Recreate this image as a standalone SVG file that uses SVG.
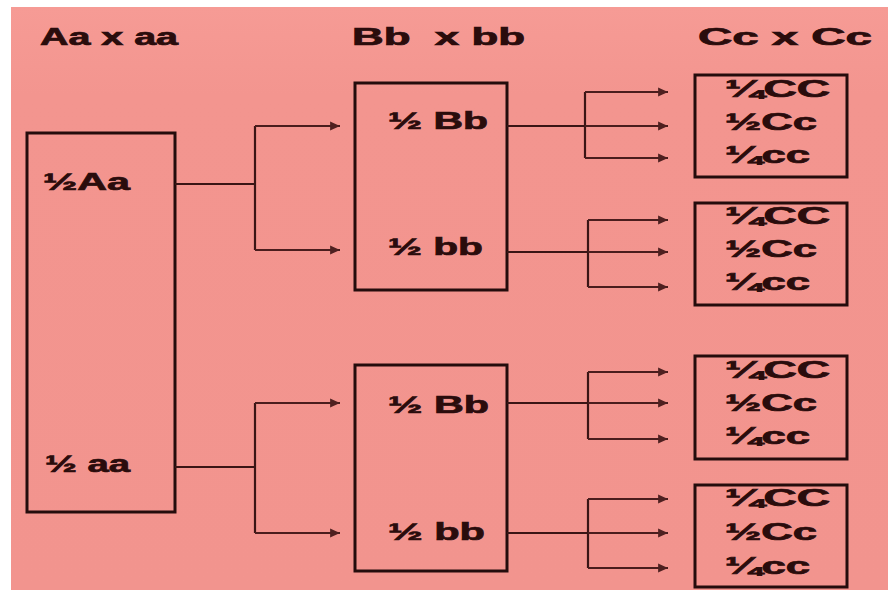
<svg xmlns="http://www.w3.org/2000/svg" width="888" height="590" viewBox="0 0 888 590">
<defs>
<marker id="ah" viewBox="0 0 10 10" refX="10" refY="5" markerWidth="5.5" markerHeight="4.5" orient="auto" markerUnits="strokeWidth">
<path d="M0,0.5 L10,5 L0,9.5 Z" fill="#4e2020"/>
</marker>
<linearGradient id="bgg" x1="0" y1="0" x2="0" y2="1">
<stop offset="0" stop-color="#f69b95"/>
<stop offset="0.15" stop-color="#f3958f"/>
<stop offset="1" stop-color="#f2948e"/>
</linearGradient>
<style>
.bg{fill:url(#bgg)}
.box{fill:none;stroke:#240c0c;stroke-width:3}
.ln{fill:none;stroke:#3a1515;stroke-width:2.2}
.ar{fill:none;stroke:#4a1d1d;stroke-width:2.2;marker-end:url(#ah)}
text{font-family:"Liberation Sans",Arial,sans-serif;font-weight:bold;fill:#2a0c0c;stroke:#2a0c0c;stroke-width:0.7}
.h{font-size:23px}
.t{font-size:24px}
.s{font-size:23px}
</style>
</defs>
<rect width="888" height="590" fill="#ffffff"/>
<rect x="11" y="7" width="877" height="583" class="bg"/>

<g id="headers">
<text class="h" x="40" y="45" textLength="138" lengthAdjust="spacingAndGlyphs">Aa x aa</text>
<text class="h" x="352" y="45" textLength="173" lengthAdjust="spacingAndGlyphs" xml:space="preserve">Bb  x bb</text>
<text class="h" x="698" y="45" textLength="174" lengthAdjust="spacingAndGlyphs">Cc x Cc</text>
</g>

<g id="nodeA">
<rect class="box" x="27" y="133" width="148" height="379"/>
<text class="t" x="43" y="190" textLength="87" lengthAdjust="spacingAndGlyphs">½Aa</text>
<text class="t" x="45" y="472" textLength="85" lengthAdjust="spacingAndGlyphs">½ aa</text>
</g>

<g id="nodeB1">
<rect class="box" x="355" y="83" width="152" height="207"/>
<text class="t" x="388" y="129" textLength="100" lengthAdjust="spacingAndGlyphs">½ Bb</text>
<text class="t" x="388" y="255" textLength="95" lengthAdjust="spacingAndGlyphs">½ bb</text>
</g>

<g id="nodeB2">
<rect class="box" x="355" y="365" width="152" height="206"/>
<text class="t" x="388" y="413" textLength="101" lengthAdjust="spacingAndGlyphs">½ Bb</text>
<text class="t" x="388" y="540" textLength="97" lengthAdjust="spacingAndGlyphs">½ bb</text>
</g>

<g id="nodeC1">
<rect class="box" x="695" y="75" width="152" height="102"/>
<text class="s" x="725" y="97" textLength="105" lengthAdjust="spacingAndGlyphs">¼CC</text>
<text class="s" x="725" y="130" textLength="92" lengthAdjust="spacingAndGlyphs">½Cc</text>
<text class="s" x="725" y="163" textLength="85" lengthAdjust="spacingAndGlyphs">¼cc</text>
</g>

<g id="nodeC2">
<rect class="box" x="695" y="203" width="152" height="102"/>
<text class="s" x="725" y="224" textLength="105" lengthAdjust="spacingAndGlyphs">¼CC</text>
<text class="s" x="725" y="257" textLength="92" lengthAdjust="spacingAndGlyphs">½Cc</text>
<text class="s" x="725" y="290" textLength="85" lengthAdjust="spacingAndGlyphs">¼cc</text>
</g>

<g id="nodeC3">
<rect class="box" x="695" y="356" width="152" height="103"/>
<text class="s" x="725" y="378" textLength="105" lengthAdjust="spacingAndGlyphs">¼CC</text>
<text class="s" x="725" y="411" textLength="92" lengthAdjust="spacingAndGlyphs">½Cc</text>
<text class="s" x="725" y="444" textLength="85" lengthAdjust="spacingAndGlyphs">¼cc</text>
</g>

<g id="nodeC4">
<rect class="box" x="695" y="485" width="152" height="102"/>
<text class="s" x="725" y="506" textLength="105" lengthAdjust="spacingAndGlyphs">¼CC</text>
<text class="s" x="725" y="540" textLength="92" lengthAdjust="spacingAndGlyphs">½Cc</text>
<text class="s" x="725" y="574" textLength="85" lengthAdjust="spacingAndGlyphs">¼cc</text>
</g>

<g id="connectors">
<path class="ln" d="M175,184 H255 M255,126 V250"/>
<path class="ar" d="M255,126 H340"/>
<path class="ar" d="M255,250 H340"/>
<path class="ln" d="M175,467 H255 M255,403 V533"/>
<path class="ar" d="M255,403 H340"/>
<path class="ar" d="M255,533 H340"/>

<path class="ln" d="M507,126 H585 M585,92 V158"/>
<path class="ar" d="M585,92 H668"/>
<path class="ar" d="M585,126 H668"/>
<path class="ar" d="M585,158 H668"/>

<path class="ln" d="M507,252 H588 M588,220 V287"/>
<path class="ar" d="M588,220 H668"/>
<path class="ar" d="M588,252 H668"/>
<path class="ar" d="M588,287 H668"/>

<path class="ln" d="M507,403 H588 M588,372 V439"/>
<path class="ar" d="M588,372 H668"/>
<path class="ar" d="M588,403 H668"/>
<path class="ar" d="M588,439 H668"/>

<path class="ln" d="M507,533 H588 M588,499 V568"/>
<path class="ar" d="M588,499 H668"/>
<path class="ar" d="M588,533 H668"/>
<path class="ar" d="M588,568 H668"/>
</g>
</svg>
